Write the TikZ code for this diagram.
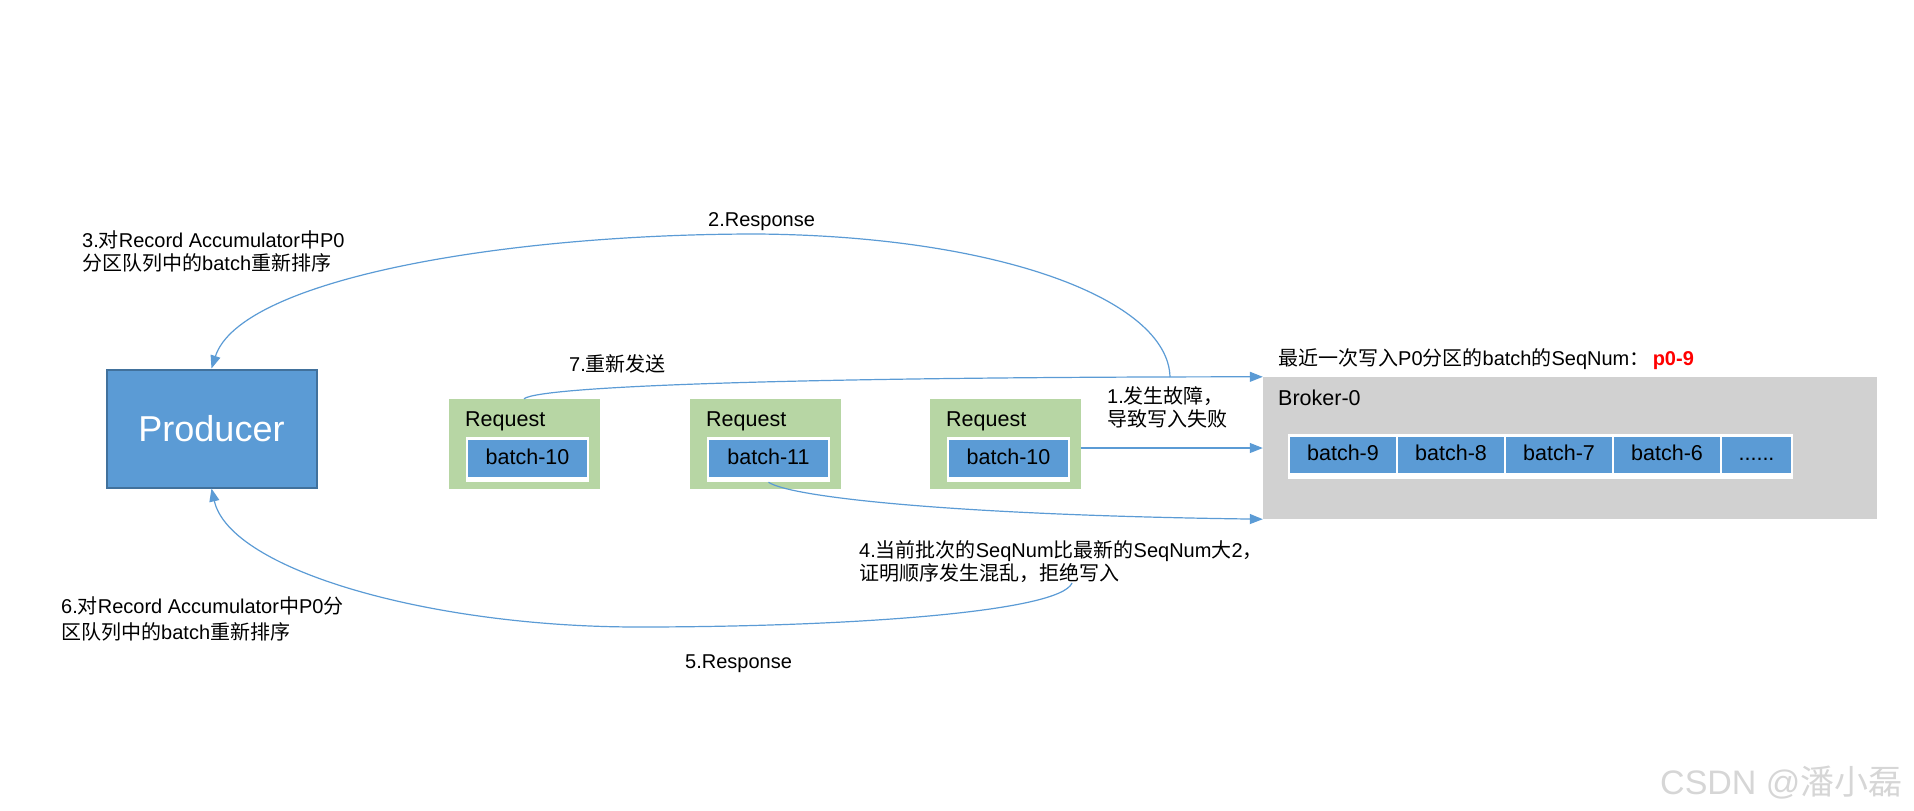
\documentclass[tikz,border=0pt]{standalone}
\usepackage{fontspec}
\setmainfont{Liberation Sans}
\newfontfamily\cjk{Noto Sans CJK SC}
\usetikzlibrary{arrows.meta}
\definecolor{pblue}{HTML}{5B9BD5}
\definecolor{pborder}{HTML}{41719C}
\definecolor{rgreen}{HTML}{B7D6A4}
\definecolor{bgray}{HTML}{D1D1D1}
\definecolor{lineblue}{HTML}{5B9BD5}
\definecolor{wm}{HTML}{D6D6D6}
\begin{document}
\begin{tikzpicture}[x=1pt,y=-1pt,
  lbl/.style={anchor=west,inner sep=0pt,font=\fontsize{20}{23}\selectfont,align=left,text=black},
  big/.style={font=\fontsize{21.5}{26}\selectfont,text=black},
  reqbox/.style={fill=rgreen,draw=none,minimum width=151pt,minimum height=90pt,inner sep=0pt},
  backing/.style={fill=white,draw=none,inner sep=0pt},
  cell/.style={fill=pblue,draw=white,line width=2pt,inner sep=0pt,big,text height=15.5pt,text depth=4.5pt},
  conn/.style={draw=lineblue,line width=1.2pt,-{Triangle[length=13pt,width=10pt]}}
]
\useasboundingbox (0,0) rectangle (1914,811);

% Producer
\node[fill=pblue,draw=pborder,line width=2pt,minimum width=210pt,minimum height=118pt,
      text=white,font=\fontsize{36}{40}\selectfont] (producer) at (211.5,428.5) {Producer};

% Requests
\node[reqbox] (req1) at (524,444) {};
\node[reqbox] (req2) at (765,444) {};
\node[reqbox] (req3) at (1005,444) {};
\node[big,anchor=west,inner sep=0pt] (rq1) at (465,421.5) {Request};
\node[big,anchor=west,inner sep=0pt] (rq2) at (706,421.5) {Request};
\node[big,anchor=west,inner sep=0pt] (rq3) at (946,421.5) {Request};

\node[backing,minimum width=123pt,minimum height=45pt] (b1w) at (527.5,459.5) {};
\node[backing,minimum width=123pt,minimum height=45pt] (b11w) at (768.5,459.5) {};
\node[backing,minimum width=123pt,minimum height=45pt] (b3w) at (1008.5,459.5) {};
\node[cell,minimum width=121pt,minimum height=39pt] (b1) at (527.5,458.5) {batch-10};
\node[cell,minimum width=121pt,minimum height=39pt] (b11) at (768.5,458.5) {batch-11};
\node[cell,minimum width=121pt,minimum height=39pt] (b3) at (1008.5,458.5) {batch-10};

% Broker
\node[fill=bgray,draw=none,minimum width=614pt,minimum height=142pt,inner sep=0pt] (broker) at (1570,448) {};
\node[big,anchor=west,inner sep=0pt] (brokerlbl) at (1278,398) {Broker-0};
\node[backing,minimum width=505pt,minimum height=45pt] (roww) at (1540.5,456.5) {};
\node[cell,minimum width=108pt,minimum height=38pt] (c9) at (1343,455) {batch-9};
\node[cell,minimum width=108pt,minimum height=38pt] (c8) at (1451,455) {batch-8};
\node[cell,minimum width=108pt,minimum height=38pt] (c7) at (1559,455) {batch-7};
\node[cell,minimum width=108pt,minimum height=38pt] (c6) at (1667,455) {batch-6};
\node[cell,minimum width=71pt,minimum height=38pt] (cd) at (1756.5,455) {......};

\node[lbl] (hdr) at (1278,359.5) {{\cjk 最近一次写入}P0{\cjk 分区的}batch{\cjk 的}SeqNum{\cjk ：}\,\textcolor{red}{\bfseries p0-9}};

% labels
\node[lbl] (l3) at (82,251) {3.{\cjk 对}Record Accumulator{\cjk 中}P0\\{\cjk 分区队列中的}batch{\cjk 重新排序}};
\node[lbl] (l2) at (708,222) {2.Response};
\node[lbl] (l7) at (569,363.5) {7.{\cjk 重新发送}};
\node[lbl] (l1) at (1107,407.5) {1.{\cjk 发生故障，}\\{\cjk 导致写入失败}};
\node[lbl] (l4) at (859,561.5) {4.{\cjk 当前批次的}SeqNum{\cjk 比最新的}SeqNum{\cjk 大}2{\cjk ，}\\{\cjk 证明顺序发生混乱，拒绝写入}};
\node[lbl,font=\fontsize{20}{26}\selectfont] (l6) at (61,618.5) {6.{\cjk 对}Record Accumulator{\cjk 中}P0{\cjk 分}\\{\cjk 区队列中的}batch{\cjk 重新排序}};
\node[lbl] (l5) at (685,664) {5.Response};
\node[anchor=base west,inner sep=0pt,font=\fontsize{34}{38}\selectfont,text=wm] (wmk) at (1660,794) {CSDN @{\cjk 潘小磊}};

% connectors
\coordinate (a2s) at (1170,377);
\coordinate (a5s) at (1072,583);
\draw[conn] (req1.north) .. controls (540,386) and (800,377) .. (broker.north west);
\draw[conn] (a2s) .. controls (1168,300) and (1000,236) .. (757,234)
               .. controls (500,234) and (240,280) .. (producer.north);
\draw[conn] (req3.east |- broker.west) -- (broker.west);
\draw[conn] (b11w.south) .. controls (790,497) and (950,515) .. (broker.south west);
\draw[conn] (a5s) .. controls (1060,612) and (850,627) .. (638,627)
               .. controls (430,627) and (230,570) .. (producer.south);
\end{tikzpicture}
\end{document}
